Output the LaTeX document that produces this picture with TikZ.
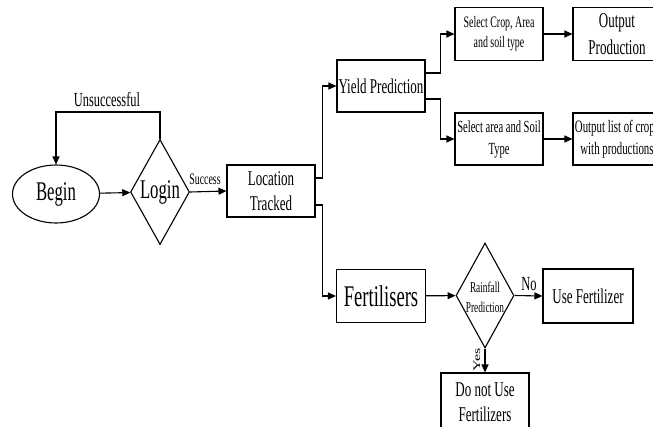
\documentclass[tikz,border=0pt]{standalone}
\usepackage{fontspec}
\usepackage{graphicx}
\setmainfont{Liberation Serif}[FakeStretch=0.62]
\newfontfamily\plainserif{Liberation Serif}
\usetikzlibrary{shapes.geometric,arrows.meta}
\begin{document}
\begin{tikzpicture}[x=1pt,y=-1pt,line width=1.1pt,
  box/.style={draw,rectangle,minimum width=88pt,minimum height=52pt,inner sep=0pt,align=center},
  arr/.style={-{Triangle[length=8pt,width=7pt]}},
  lbl/.style={inner sep=0pt,align=center}]
\clip (0,0) rectangle (653,426);
% nodes
\node[ellipse,draw,minimum width=87pt,minimum height=58pt,inner sep=0pt,font=\fontsize{27}{30}\selectfont] (begin) at (56,194) {Begin};
\node[diamond,draw,minimum width=59pt,minimum height=105pt,inner sep=0pt] (login) at (160,192) {};
\node[lbl,font=\fontsize{27}{30}\selectfont] (logintext) at (160,192) {Login};
\node[box,font=\fontsize{21}{25}\selectfont] (loc) at (271,191) {Location\\Tracked};
\node[box,font=\fontsize{21}{25}\selectfont] (yield) at (381,86) {Yield Prediction};
\node[box,minimum height=53pt,font=\fontsize{16}{20}\selectfont] (selcrop) at (499,34) {Select Crop, Area\\and soil type};
\node[box,minimum height=53pt,font=\fontsize{21}{27}\selectfont] (outprod) at (617,34) {Output\\Production};
\node[box,font=\fontsize{17}{22}\selectfont] (selarea) at (499,139) {Select area and Soil\\Type};
\node[box,font=\fontsize{17.5}{22}\selectfont] (outlist) at (617,139) {Output list of crops\\with productions};
\node[box,minimum width=89pt,minimum height=53pt,font=\fontsize{30}{32}\selectfont] (fert) at (381,296) {Fertilisers};
\node[diamond,draw,minimum width=58pt,minimum height=105pt,inner sep=0pt] (rain) at (485,295.5) {};
\node[lbl,font=\fontsize{15}{20}\selectfont] (raintext) at (485,297) {Rainfall\\Prediction};
\node[box,minimum width=90pt,minimum height=54pt,font=\fontsize{21}{25}\selectfont] (use) at (588,296) {Use Fertilizer};
\node[box,minimum height=58pt,font=\fontsize{21}{25}\selectfont] (dont) at (485,402) {Do not Use\\Fertilizers};
% connectors
\draw[arr] (begin) -- (login);
\draw[arr] (login.north) -- ++(0,-27) -| (begin.north);
\node[lbl,font=\fontsize{20}{22}\selectfont] (unsucc) at (107,100) {Unsuccessful};
\draw[arr] (login.east) -- (loc.west);
\node[lbl,font=\fontsize{16}{18}\selectfont] (succ) at (205,179) {Success};
\draw[arr] ([yshift=13pt]loc.east) -- ++(7,0) |- (yield.west);
\draw[arr] ([yshift=-14pt]loc.east) -- ++(7,0) |- (fert.west);
\draw[arr] ([yshift=13pt]yield.east) -- ++(15,0) |- (selcrop.west);
\draw[arr] ([yshift=-13pt]yield.east) -- ++(15,0) |- (selarea.west);
\draw[arr] (selcrop) -- (outprod);
\draw[arr] (selarea) -- (outlist);
\draw[arr] (fert) -- (rain);
\draw[arr] (rain.east) -- (use.west);
\node[lbl,font=\fontsize{20}{22}\selectfont] (no) at (529,284) {No};
\draw[arr] (rain.south) -- (dont.north);
\node[lbl,rotate=90,font=\plainserif\fontsize{16}{16}\selectfont] (yes) at (477,360) {\scalebox{1}[0.62]{Yes}};
\end{tikzpicture}
\end{document}
